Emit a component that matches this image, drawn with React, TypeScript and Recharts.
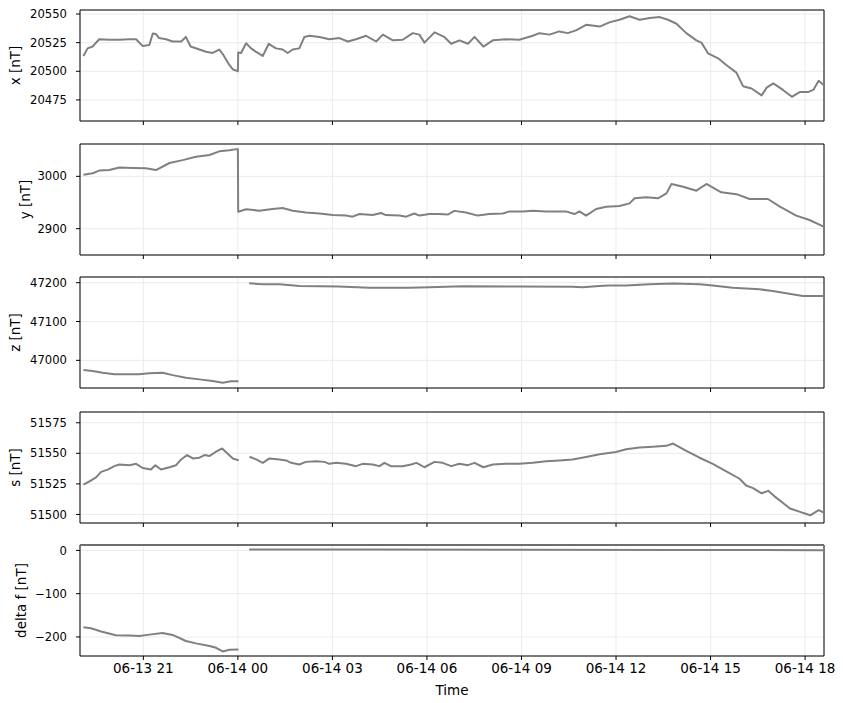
import React from 'react'
import {
  LineChart, Line, XAxis, YAxis, CartesianGrid, ReferenceArea, ReferenceLine,
} from 'recharts'

// hours since 06-13 00:00
const timeTicks = [21, 24, 27, 30, 33, 36, 39, 42]
const timeDomain = [18.99, 42.6]

const xTime = [
  19.1, 19.23, 19.39, 19.6, 19.92, 20.24, 20.56, 20.77, 20.98, 21.19, 21.3, 21.4, 21.5, 21.72,
  21.93, 22.2, 22.35, 22.5, 22.78, 22.99, 23.2, 23.41, 23.52, 23.62, 23.73, 23.84, 23.96, 24.0,
  24.01, 24.1, 24.26, 24.42, 24.58, 24.79, 24.98, 25.21, 25.42, 25.58, 25.74, 25.95, 26.11, 26.27,
  26.59, 26.9, 27.22, 27.49, 27.75, 28.07, 28.39, 28.6, 28.92, 29.23, 29.55, 29.76, 29.92, 30.24,
  30.55, 30.77, 31.03, 31.3, 31.51, 31.79, 32.09, 32.51, 32.93, 33.36, 33.57, 33.89, 34.2, 34.47,
  34.73, 35.05, 35.48, 35.79, 36.11, 36.43, 36.75, 37.07, 37.39, 37.65, 37.92, 38.23, 38.55, 38.71,
  38.92, 39.24, 39.5, 39.82, 40.03, 40.3, 40.62, 40.78, 40.99, 41.31, 41.58, 41.84, 42.11, 42.27,
  42.43, 42.59,
]
const xVal = [
  20513.4, 20520, 20521.6, 20528, 20527.5, 20527.5, 20528, 20528, 20522, 20523, 20533, 20532.5, 20529, 20528,
  20526, 20526, 20530, 20521.6, 20519, 20517, 20516, 20519, 20515, 20510.5, 20505.5, 20501.7, 20500.5, 20500,
  20516.3, 20516, 20524.5, 20520, 20517, 20513.4, 20524, 20520, 20519, 20516, 20519, 20520, 20530, 20531,
  20530, 20528, 20529, 20526, 20528, 20531, 20526, 20532, 20527, 20527.5, 20533.3, 20532, 20525, 20534,
  20530, 20524, 20527, 20524, 20530, 20521.6, 20527, 20528, 20527.5, 20531, 20533.3, 20532, 20534.8, 20533.3,
  20535.7, 20540.6, 20539, 20542.7, 20545, 20548, 20545, 20546.5, 20547.3, 20545, 20541.5, 20533.3, 20527, 20525,
  20515.7, 20511.3, 20505.5, 20498.8, 20487, 20485, 20479, 20485.7, 20489.4, 20483.5, 20477.7, 20482, 20482, 20484,
  20491.7, 20488,
]

const yTime = [
  19.1, 19.39, 19.6, 19.92, 20.24, 20.66, 21.08, 21.4, 21.83, 22.25, 22.67, 23.1, 23.41, 23.73, 23.96, 24.0,
  24.01, 24.26, 24.68, 25.1, 25.42, 25.74, 26.16, 26.59, 27.01, 27.43, 27.64, 27.86, 28.28, 28.54, 28.7, 29.13,
  29.34, 29.6, 29.76, 30.08, 30.39, 30.66, 30.87, 31.24, 31.61, 31.98, 32.41, 32.62, 33.04, 33.36, 33.78, 34.41,
  34.68, 34.84, 35.05, 35.37, 35.69, 36.11, 36.43, 36.59, 36.96, 37.33, 37.6, 37.76, 38.13, 38.55, 38.87, 39.34,
  39.82, 40.24, 40.82, 41.2, 41.72, 42.14, 42.59,
]
const yVal = [
  3003, 3006, 3011, 3012, 3017, 3016, 3015.5, 3012, 3025.5, 3031, 3037.6, 3040.8, 3047.8, 3050, 3052, 3052,
  2932.5, 2937, 2934.4, 2937.6, 2939.5, 2934.4, 2931, 2929, 2926, 2925, 2923, 2928, 2926, 2930, 2926, 2925,
  2923, 2929, 2925, 2928, 2928, 2927, 2934, 2931, 2925, 2928, 2929, 2933, 2933, 2934.4, 2933, 2933,
  2928, 2933, 2925, 2937.6, 2942, 2943.3, 2948.4, 2958, 2960, 2958, 2967.5, 2985.4, 2980, 2972.6, 2985.4, 2969.4,
  2966, 2956.7, 2956.7, 2942, 2925, 2916.6, 2903.8,
]

const zTime = [
  19.1, 19.39, 19.71, 20.08, 20.45, 20.87, 21.19, 21.61, 21.93, 22.35, 22.78, 23.2, 23.52, 23.78, 24.02,
  24.2,
  24.36, 24.79, 25.32, 25.95, 26.59, 27.2, 28.17, 29.44, 30.08, 31.13, 32.83, 34.62, 34.94, 35.47, 35.77,
  36.32, 37.06, 37.8, 38.65, 39.07, 39.7, 40.55, 40.97, 41.4, 41.93, 42.24, 42.59,
]
const zVal = [
  46975, 46972.5, 46968, 46964, 46964, 46964, 46966.5, 46968, 46962, 46955, 46951, 46947, 46942.5, 46946, 46946,
  null,
  47198.3, 47195.7, 47195.7, 47191.4, 47191, 47190, 47187, 47187, 47188.5, 47190.5, 47190, 47189.7, 47188, 47191.4, 47193,
  47193, 47195.7, 47198, 47195.7, 47193, 47187, 47183, 47178.5, 47172.5, 47165.7, 47165.7, 47165.7,
]

const sTime = [
  19.1, 19.29, 19.5, 19.66, 19.87, 20.08, 20.24, 20.56, 20.77, 20.98, 21.24, 21.38, 21.56, 21.83, 22.04, 22.2,
  22.39, 22.57, 22.78, 22.94, 23.1, 23.31, 23.5, 23.68, 23.84, 24.03,
  24.2,
  24.37, 24.58, 24.79, 25.0, 25.32, 25.53, 25.69, 25.95, 26.16, 26.48, 26.75, 26.9, 27.12, 27.43, 27.75, 27.96,
  28.28, 28.49, 28.65, 28.86, 29.23, 29.5, 29.66, 29.76, 29.92, 30.24, 30.5, 30.77, 31.03, 31.3, 31.51, 31.79,
  32.09, 32.51, 32.93, 33.36, 33.78, 34.2, 34.62, 35.05, 35.48, 36.0, 36.32, 36.75, 37.17, 37.6, 37.81, 38.23,
  38.65, 39.07, 39.5, 39.92, 40.13, 40.35, 40.62, 40.83, 41.04, 41.25, 41.52, 41.84, 42.16, 42.43, 42.59,
]
const sVal = [
  51524.3, 51527, 51530.3, 51534.8, 51536.7, 51539.5, 51540.9, 51540.3, 51541.4, 51538, 51536.7, 51540.3, 51536.7, 51538.6, 51540.3, 51545,
  51548.6, 51545.8, 51546.4, 51548.6, 51547.8, 51551.4, 51554, 51549.7, 51545.8, 51544.2,
  null,
  51547.2, 51545, 51542.2, 51545.8, 51545, 51544.2, 51542.2, 51540.9, 51543, 51543.6, 51543, 51541.4, 51542.2, 51541.4, 51539.5, 51541.4,
  51540.9, 51539.5, 51542.2, 51539.5, 51539.5, 51540.9, 51542.2, 51541, 51538.6, 51543, 51542.2, 51539.5, 51541.4, 51540.3, 51542.2, 51538.6,
  51540.9, 51541.4, 51541.4, 51542.2, 51543.6, 51544.2, 51545, 51547, 51549.2, 51551.1, 51553.3, 51554.7, 51555.3, 51556.1, 51558, 51552,
  51546.4, 51541.4, 51535.3, 51529.2, 51523.7, 51521.5, 51517.3, 51519.3, 51514.6, 51510.4, 51504.9, 51502.1, 51499.3, 51503.5, 51501.6,
]

const dfTime = [
  19.1, 19.34, 19.66, 20.13, 20.56, 20.87, 21.19, 21.61, 21.93, 22.35, 22.67, 23.1, 23.31, 23.52, 23.73, 24.02,
  24.2,
  24.36, 28.0, 33.0, 38.0, 42.59,
]
const dfVal = [
  -177.4, -179.8, -187.5, -196, -196.8, -197.7, -194.6, -190.7, -195.3, -209.3, -214.8, -221, -225, -233.5, -229.6, -228.8,
  null,
  2.3, 2, 1.5, 1, 0.5,
]

const xTicks = [20475, 20500, 20525, 20550]
const yTicks = [2900, 3000]
const zTicks = [47000, 47100, 47200]
const sTicks = [51500, 51525, 51550, 51575]
const dfTicks = [-200, -100, 0]

const FONT = '"DejaVu Sans", sans-serif'
const Y_FS = 11.6
const X_FS = 13.5
const TITLE_FS = 13.5
const PLOT_H = 111

const rows = (ts: number[], vs: (number | null)[]) => ts.map((t, i) => ({ t, v: vs[i] }))

const fmtTime = (h: number) => {
  const day = h < 24 ? '06-13' : '06-14'
  const hh = Math.round(h % 24)
  return `${day} ${String(hh).padStart(2, '0')}`
}
const fmtNum = (v: number) => (v < 0 ? '\u2212' + Math.abs(v) : String(v))

function YTitle({ viewBox, text, px }: any) {
  const cy = viewBox.y + viewBox.height / 2
  return (
    <text
      x={px} y={cy} transform={`rotate(-90 ${px} ${cy})`}
      textAnchor="middle" dominantBaseline="central"
      style={{ fontFamily: FONT, fontSize: TITLE_FS, fill: '#000' }}
    >{text}</text>
  )
}

function XTitle({ viewBox }: any) {
  return (
    <text
      x={viewBox.x + viewBox.width / 2} y={viewBox.y + 34}
      textAnchor="middle" dominantBaseline="central"
      style={{ fontFamily: FONT, fontSize: TITLE_FS, fill: '#000' }}
    >Time</text>
  )
}

function Panel({ top, data, domain, ticks, title, titleX, bottom, topLine }: any) {
  const axisH = bottom ? 45 : 6
  return (
    <div style={{ position: 'absolute', left: 0, top: top - 5 }}>
      <LineChart
        width={843}
        height={5 + PLOT_H + axisH}
        data={data}
        margin={{ top: 5, right: 19, bottom: 0, left: 0 }}
      >
        <CartesianGrid stroke="#ebebeb" strokeWidth={1} />
        <XAxis
          dataKey="t"
          type="number"
          domain={timeDomain}
          ticks={timeTicks}
          allowDataOverflow
          height={axisH}
          axisLine={false}
          tickLine={{ stroke: '#000' }}
          tickSize={4}
          tickMargin={3}
          tick={{ fill: '#000', fontSize: X_FS, fontFamily: FONT }}
          tickFormatter={bottom ? fmtTime : () => ''}
          interval={0}
          label={bottom ? <XTitle /> : undefined}
        />
        <YAxis
          type="number"
          domain={domain}
          ticks={ticks}
          allowDataOverflow
          width={80}
          axisLine={false}
          tickLine={{ stroke: '#000' }}
          tickSize={4}
          tickMargin={9}
          tick={{ fill: '#000', fontSize: Y_FS, fontFamily: FONT }}
          tickFormatter={fmtNum}
          interval={0}
          label={<YTitle text={title} px={titleX} />}
        />
        <Line
          dataKey="v"
          stroke="#808080"
          strokeWidth={2}
          dot={false}
          activeDot={false}
          isAnimationActive={false}
          strokeLinejoin="round"
        />
        <ReferenceArea
          x1={timeDomain[0]} x2={timeDomain[1]} y1={domain[0]} y2={domain[1]}
          fill="none" stroke="#000" strokeWidth={1} ifOverflow="visible"
        />
        {topLine && (
          <ReferenceLine y={domain[1]} stroke="#6e6e6e" strokeWidth={2} ifOverflow="visible" />
        )}
      </LineChart>
    </div>
  )
}

export default function App() {
  return (
    <div style={{ position: 'absolute', left: 0, top: 0, width: 843, height: 703, background: '#fff' }}>
      <Panel top={10} data={rows(xTime, xVal)} domain={[20456.6, 20553.5]} ticks={xTicks} title="x [nT]" titleX={15} />
      <Panel top={143.5} data={rows(yTime, yVal)} domain={[2849.7, 3061.8]} ticks={yTicks} title="y [nT]" titleX={25} />
      <Panel top={277} data={rows(zTime, zVal)} domain={[46928.8, 47214.6]} ticks={zTicks} title="z [nT]" titleX={15} />
      <Panel top={411.5} data={rows(sTime, sVal)} domain={[51493, 51583.8]} ticks={sTicks} title="s [nT]" titleX={15} />
      <Panel top={545} data={rows(dfTime, dfVal)} domain={[-244, 12.5]} ticks={dfTicks} title="delta f [nT]" titleX={21} bottom topLine />
    </div>
  )
}
